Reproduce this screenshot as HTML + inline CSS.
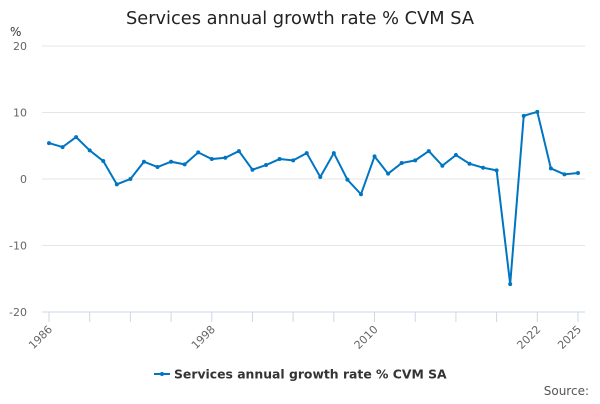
<!DOCTYPE html>
<html><head><meta charset="utf-8"><style>
body{margin:0;background:#fff;font-family:"DejaVu Sans","Liberation Sans",sans-serif}
</style></head><body>
<svg id="c" width="600" height="400" xmlns="http://www.w3.org/2000/svg">
<text x="300" y="24" text-anchor="middle" font-size="17.8" fill="#222">Services annual growth rate % CVM SA</text>
<text x="10" y="36" font-size="12" fill="#333">%</text>
<g id="grid"></g><g id="xa"></g><g id="series"></g>
<g>
<line x1="154" y1="374" x2="170" y2="374" stroke="#0075c2" stroke-width="2"/><circle cx="162" cy="374" r="2" fill="#0075c2"/>
<text x="174" y="378.5" font-size="12.4" font-weight="bold" fill="#333">Services annual growth rate % CVM SA</text></g>
<text x="589" y="395" text-anchor="end" font-size="12" fill="#555">Source:</text>
</svg>
<script>
const years=[];for(let y=1986;y<=2025;y++)years.push(y);
const values=[5.4,4.8,6.3,4.3,2.7,-0.8,0.0,2.6,1.8,2.6,2.2,4.0,3.0,3.2,4.2,1.4,2.1,3.0,2.8,3.9,0.3,3.9,-0.1,-2.3,3.4,0.8,2.4,2.8,4.2,2.0,3.6,2.3,1.7,1.3,-15.8,9.5,10.1,1.6,0.7,0.9];
const yTicks=[20,10,0,-10,-20];
const xLabels=[1986,1998,2010,2022,2025];
const NS="http://www.w3.org/2000/svg";
const X=y=>49+(y-1986)*(578-49)/39, Y=v=>179-v*6.65;
function el(t,a,p){const e=document.createElementNS(NS,t);for(const k in a)e.setAttribute(k,a[k]);p.appendChild(e);return e;}
const g=document.getElementById('grid'),xa=document.getElementById('xa'),s=document.getElementById('series');
yTicks.forEach(v=>{const l=el('line',{x1:42,x2:585,y1:Y(v),y2:Y(v),stroke:v==-20?'#ccd6eb':'#e6e6e6'},g);


const t=el('text',{x:27,y:Y(v)+4,'text-anchor':'end','font-size':11,fill:'#666'},g);t.textContent=v;

});
for(let y=1986;y<=2025;y+=3){const l=el('line',{x1:X(y),x2:X(y),y1:Y(-20),y2:Y(-20)+10,stroke:'#ccd6eb'},xa);

}
const lt=el('line',{x1:X(2025),x2:X(2025),y1:Y(-20),y2:Y(-20)+10,stroke:'#ccd6eb'},xa);


xLabels.forEach(y=>{const t=el('text',{x:X(y)+4,y:Y(-20)+18,'text-anchor':'end','font-size':11,fill:'#666',transform:`rotate(-45 ${X(y)+4} ${Y(-20)+18})`},xa);t.textContent=y;

});
const p=el('polyline',{points:values.map((v,i)=>X(years[i])+','+Y(v)).join(' '),fill:'none',stroke:'#0075c2','stroke-width':2},s);


values.forEach((v,i)=>{const c=el('circle',{cx:X(years[i]),cy:Y(v),r:2,fill:'#0075c2'},s);

});
</script>
</body></html>
